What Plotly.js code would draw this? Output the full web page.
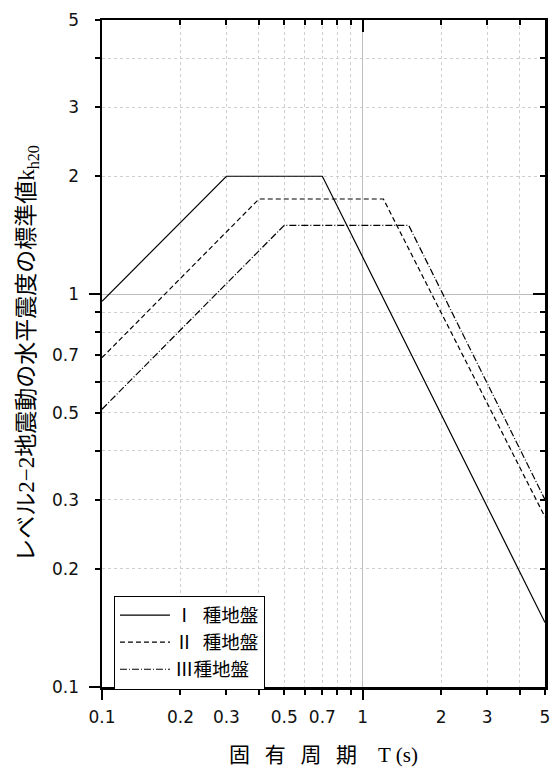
<!DOCTYPE html>
<html>
<head>
<meta charset="utf-8">
<script src="https://cdn.plot.ly/plotly-3.0.1.min.js"></script>
<style>html,body{margin:0;padding:0;background:#fff;}#chart{width:552px;height:773px;}</style>
</head>
<body>
<div id="chart"></div>
<script>
// Data (period T [s] vs standard value k_h20)
const periodI   = [0.1, 0.3, 0.7, 5];
const khI       = [0.96, 2.0, 2.0, 0.146];
const periodII  = [0.1, 0.4, 1.2, 5];
const khII      = [0.69, 1.75, 1.75, 0.271];
const periodIII = [0.1, 0.5, 1.5, 5];
const khIII     = [0.51, 1.5, 1.5, 0.30];
const seriesNames = ['Ⅰ\u2002種地盤', 'Ⅱ\u2002種地盤', 'Ⅲ種地盤'];

// Tick labels
const labeledTicks = [0.1, 0.2, 0.3, 0.5, 0.7, 1, 2, 3, 5];
const labeledText  = ['0.1', '0.2', '0.3', '0.5', '0.7', '1', '2', '3', '5'];
const minorTicks   = [0.4, 0.6, 0.8, 0.9, 4];
const decadeTicks  = [0.1, 1];
const innerMinor   = [0.2, 0.3, 0.4, 0.5, 0.6, 0.7, 0.8, 0.9, 2, 3, 4];

const serifFont = '"Liberation Serif", "Noto Sans CJK JP", serif';
const tickFont = {family: '"DejaVu Sans", Verdana, sans-serif', size: 17, color: '#111'};
const gridDash = '3px,3px';
const gridColor = '#cfcfcf';
const range = [-1, Math.log10(5)];

const traces = [
  {x: periodI, y: khI, name: seriesNames[0], mode: 'lines', line: {color: '#000', width: 1.2, dash: 'solid'}},
  {x: periodII, y: khII, name: seriesNames[1], mode: 'lines', line: {color: '#000', width: 1.2, dash: '5px,3px'}},
  {x: periodIII, y: khIII, name: seriesNames[2], mode: 'lines', line: {color: '#000', width: 1.2, dash: '7px,2px,1px,2px'}},
  {x: [], y: [], xaxis: 'x2', yaxis: 'y2', showlegend: false, hoverinfo: 'skip'},
  {x: [], y: [], xaxis: 'x3', yaxis: 'y3', showlegend: false, hoverinfo: 'skip'}
];

function mainAxis(extra) {
  return Object.assign({
    type: 'log', range: range, tickmode: 'array',
    tickvals: labeledTicks, ticktext: labeledText,
    ticks: 'outside', ticklen: 5, tickwidth: 2, tickcolor: '#000',
    showline: true, linecolor: '#000', linewidth: 2.5,
    showgrid: true, gridcolor: gridColor, gridwidth: 1, griddash: gridDash,
    tickfont: tickFont, zeroline: false, fixedrange: true,
    minor: {tickmode: 'array', tickvals: minorTicks, ticks: 'outside', ticklen: 5, tickwidth: 2, tickcolor: '#000',
            showgrid: true, gridcolor: gridColor, gridwidth: 1, griddash: gridDash}
  }, extra);
}
function decadeAxis(extra) {
  return Object.assign({
    type: 'log', range: range, tickmode: 'array', tickvals: decadeTicks,
    ticks: 'outside', ticklen: 12, tickwidth: 2, tickcolor: '#000',
    showticklabels: false, showline: false,
    showgrid: true, gridcolor: '#bdbdbd', gridwidth: 1.2, griddash: 'solid',
    zeroline: false, fixedrange: true
  }, extra);
}
function mirrorAxis(extra) {
  return Object.assign({
    type: 'log', range: range, tickmode: 'array', tickvals: decadeTicks,
    ticks: 'inside', ticklen: 12, tickwidth: 2, tickcolor: '#000',
    showticklabels: false, showline: true, linecolor: '#000', linewidth: 2.5,
    showgrid: false, zeroline: false, fixedrange: true,
    minor: {tickmode: 'array', tickvals: innerMinor, ticks: 'inside', ticklen: 5, tickwidth: 2, tickcolor: '#000', showgrid: false}
  }, extra);
}

const layout = {
  width: 552, height: 773,
  margin: {l: 102, r: 7, t: 20, b: 86},
  paper_bgcolor: '#fff', plot_bgcolor: '#fff',
  showlegend: true,
  legend: {
    x: 0.027, y: 0.137, xanchor: 'left', yanchor: 'top',
    bgcolor: '#fff', bordercolor: '#000', borderwidth: 1,
    font: {family: serifFont, size: 18.5, color: '#000'},
    itemwidth: 50, tracegroupgap: 0
  },
  xaxis: mainAxis({
    anchor: 'y', side: 'bottom', ticklabelstandoff: 8,
    title: {text: '固\u2002\u2009有\u2002\u2009周\u2002\u2009期\u2002\u2002T (s)', font: {family: serifFont, size: 21, color: '#000'}, standoff: 22}
  }),
  yaxis: mainAxis({
    anchor: 'x', side: 'left', ticklabelstandoff: 12,
    title: {text: 'レベル2−2地震動の水平震度の標準値k<sub>h20</sub>', font: {family: serifFont, size: 23, color: '#000'}, standoff: 11}
  }),
  xaxis2: decadeAxis({overlaying: 'x', anchor: 'y2', side: 'bottom'}),
  yaxis2: decadeAxis({overlaying: 'y', anchor: 'x2', side: 'left'}),
  xaxis3: mirrorAxis({overlaying: 'x', anchor: 'y3', side: 'top'}),
  yaxis3: mirrorAxis({overlaying: 'y', anchor: 'x3', side: 'right'})
};

Plotly.newPlot('chart', traces, layout, {staticPlot: true, displayModeBar: false});
</script>
</body>
</html>
